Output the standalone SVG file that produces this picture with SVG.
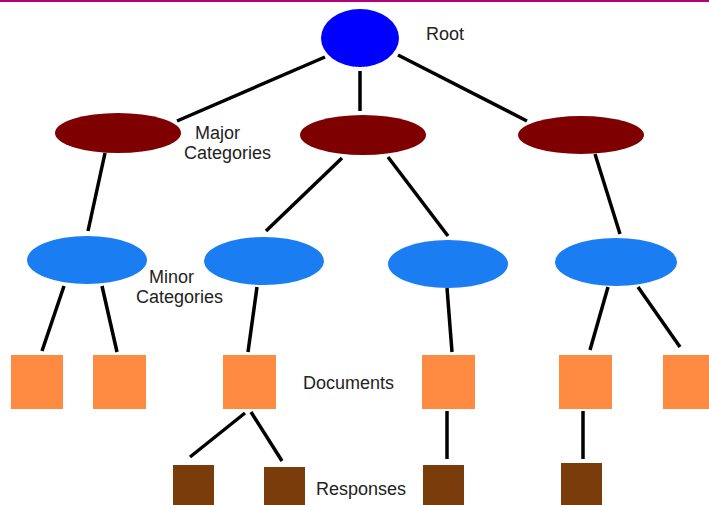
<svg xmlns="http://www.w3.org/2000/svg" width="709" height="505" viewBox="0 0 709 505">
  <style>
    .edge { stroke: #000; stroke-width: 3.5; stroke-linecap: butt; fill: none; }
    .root { fill: #0000ff; }
    .major { fill: #7f0000; }
    .minor { fill: #1a7ef2; }
    .doc { fill: #ff8a42; }
    .resp { fill: #7a3c0a; }
    .label { font-family: "Liberation Sans", Arial, sans-serif; font-size: 18px; fill: #222; }
  </style>
  <rect x="0" y="0" width="709" height="505" fill="#fff"/>
  <rect x="0" y="0" width="709" height="2" fill="#b4007e"/>

  <!-- connectors -->
  <g id="connectors">
    <line class="edge" x1="325" y1="57" x2="177" y2="121"/>
    <line class="edge" x1="360" y1="71" x2="360" y2="111"/>
    <line class="edge" x1="398" y1="55" x2="527" y2="121"/>
    <line class="edge" x1="105" y1="153" x2="88" y2="231"/>
    <line class="edge" x1="342" y1="158" x2="266" y2="231"/>
    <line class="edge" x1="388" y1="157" x2="448" y2="236"/>
    <line class="edge" x1="595" y1="154" x2="620" y2="234"/>
    <line class="edge" x1="64" y1="286" x2="42" y2="351"/>
    <line class="edge" x1="102" y1="286" x2="117" y2="352"/>
    <line class="edge" x1="257" y1="287" x2="248" y2="352"/>
    <line class="edge" x1="447" y1="288" x2="452" y2="352"/>
    <line class="edge" x1="608" y1="287" x2="590" y2="350"/>
    <line class="edge" x1="638" y1="287" x2="680" y2="347"/>
    <line class="edge" x1="245" y1="413" x2="190" y2="457"/>
    <line class="edge" x1="251" y1="412" x2="282" y2="461"/>
    <line class="edge" x1="447" y1="411" x2="447" y2="459"/>
    <line class="edge" x1="583" y1="411" x2="583" y2="459"/>
  </g>

  <!-- root -->
  <g id="root">
    <ellipse class="root" cx="360" cy="38" rx="39" ry="29"/>
    <text class="label" x="426" y="40">Root</text>
  </g>

  <!-- major categories -->
  <g id="major-1">
    <ellipse class="major" cx="118" cy="133" rx="63" ry="20"/>
    <text class="label" x="195" y="139">Major</text>
    <text class="label" x="184" y="159">Categories</text>
  </g>
  <g id="major-2">
    <ellipse class="major" cx="363" cy="135" rx="63" ry="20"/>
  </g>
  <g id="major-3">
    <ellipse class="major" cx="581" cy="135" rx="63" ry="19"/>
  </g>

  <!-- minor categories -->
  <g id="minor-1">
    <ellipse class="minor" cx="87" cy="260" rx="60" ry="24"/>
    <text class="label" x="149" y="283">Minor</text>
    <text class="label" x="136" y="303">Categories</text>
  </g>
  <g id="minor-2">
    <ellipse class="minor" cx="264" cy="261" rx="60" ry="24"/>
  </g>
  <g id="minor-3">
    <ellipse class="minor" cx="448" cy="264" rx="60" ry="24"/>
  </g>
  <g id="minor-4">
    <ellipse class="minor" cx="616" cy="262" rx="61" ry="24"/>
  </g>

  <!-- documents -->
  <g id="doc-1"><rect class="doc" x="11" y="355" width="52" height="54"/></g>
  <g id="doc-2"><rect class="doc" x="93" y="355" width="53" height="54"/></g>
  <g id="doc-3">
    <rect class="doc" x="223" y="355" width="53" height="54"/>
    <text class="label" x="303" y="389">Documents</text>
  </g>
  <g id="doc-4"><rect class="doc" x="422" y="355" width="53" height="54"/></g>
  <g id="doc-5"><rect class="doc" x="559" y="355" width="53" height="54"/></g>
  <g id="doc-6"><rect class="doc" x="663" y="355" width="46" height="54"/></g>

  <!-- responses -->
  <g id="resp-1"><rect class="resp" x="173" y="465" width="41" height="40"/></g>
  <g id="resp-2">
    <rect class="resp" x="264" y="467" width="41" height="38"/>
    <text class="label" x="316" y="495">Responses</text>
  </g>
  <g id="resp-3"><rect class="resp" x="423" y="465" width="41" height="40"/></g>
  <g id="resp-4"><rect class="resp" x="561" y="463" width="41" height="42"/></g>
</svg>
